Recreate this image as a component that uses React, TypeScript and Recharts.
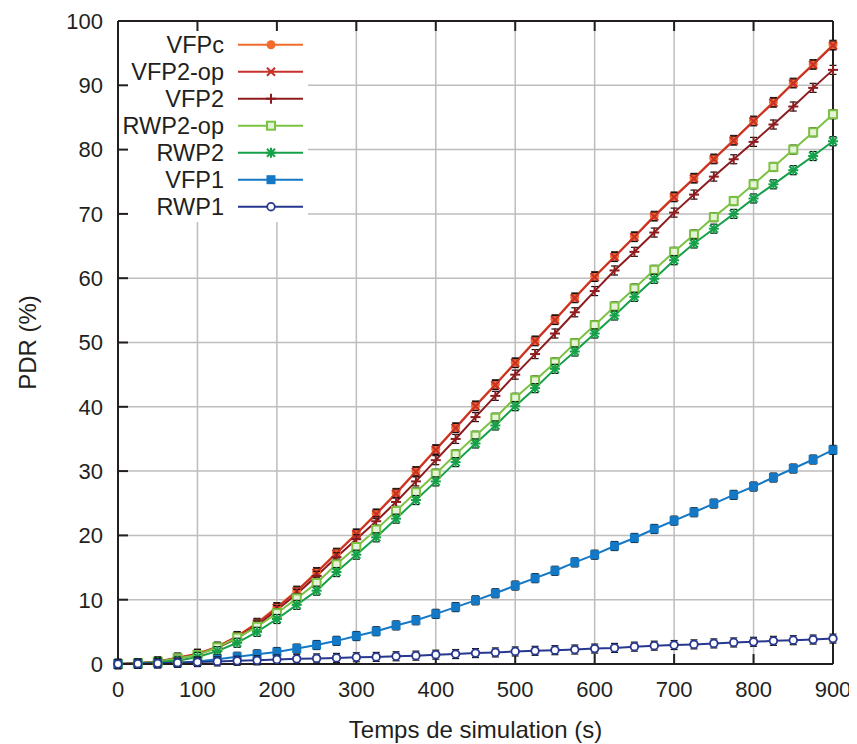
import { LineChart, Line, XAxis, YAxis, CartesianGrid } from 'recharts'

// simulation time (s), one point every 25 s
const times = [
  0, 25, 50, 75, 100, 125, 150, 175, 200, 225, 250, 275, 300, 325, 350, 375, 400, 425, 450,
  475, 500, 525, 550, 575, 600, 625, 650, 675, 700, 725, 750, 775, 800, 825, 850, 875, 900,
]

// PDR (%) per protocol
const vfpc = [
  0, 0.1, 0.4, 1.0, 1.6, 2.7, 4.35, 6.4, 8.85, 11.4, 14.3, 17.3, 20.3, 23.4, 26.6, 30.0, 33.4,
  36.8, 40.2, 43.5, 46.9, 50.3, 53.6, 57.0, 60.3, 63.4, 66.5, 69.7, 72.7, 75.6, 78.6, 81.5,
  84.5, 87.4, 90.4, 93.3, 96.3,
]
const vfp2op = [
  0, 0.1, 0.4, 0.95, 1.55, 2.65, 4.3, 6.3, 8.75, 11.3, 14.2, 17.2, 20.2, 23.3, 26.5, 29.9, 33.3,
  36.7, 40.1, 43.4, 46.8, 50.2, 53.5, 56.9, 60.2, 63.3, 66.4, 69.6, 72.6, 75.5, 78.5, 81.4,
  84.4, 87.3, 90.3, 93.2, 96.2,
]
const vfp2 = [
  0, 0.1, 0.35, 0.9, 1.5, 2.5, 4.0, 6.0, 8.4, 10.9, 13.7, 16.6, 19.4, 22.2, 25.2, 28.4, 31.7,
  35.0, 38.4, 41.7, 45.0, 48.2, 51.4, 54.7, 58.0, 61.2, 64.1, 67.1, 70.2, 73.0, 75.8, 78.5,
  81.2, 83.9, 86.7, 89.6, 92.4,
]
const rwp2op = [
  0, 0.1, 0.35, 0.9, 1.4, 2.6, 4.1, 5.8, 7.9, 10.2, 12.6, 15.5, 18.2, 20.9, 23.8, 26.7, 29.6,
  32.6, 35.5, 38.3, 41.4, 44.1, 46.9, 49.9, 52.7, 55.6, 58.4, 61.3, 64.1, 66.8, 69.5, 72.0,
  74.6, 77.3, 80.0, 82.7, 85.5,
]
const rwp2 = [
  0, 0.05, 0.3, 0.5, 1.1, 2.0, 3.3, 5.0, 7.0, 9.2, 11.4, 14.3, 17.0, 19.7, 22.6, 25.5, 28.4,
  31.4, 34.3, 37.1, 40.1, 42.9, 45.9, 48.6, 51.4, 54.2, 57.1, 59.9, 62.8, 65.4, 67.7, 70.0,
  72.4, 74.6, 76.8, 79.0, 81.3,
]
const vfp1 = [
  0, 0.05, 0.1, 0.2, 0.4, 0.73, 1.13, 1.5, 1.86, 2.4, 2.95, 3.6, 4.35, 5.1, 6.0, 6.8, 7.8,
  8.85, 9.9, 11.0, 12.2, 13.35, 14.5, 15.8, 17.0, 18.35, 19.6, 21.0, 22.3, 23.6, 24.95, 26.3,
  27.6, 29.0, 30.4, 31.8, 33.3,
]
const rwp1 = [
  0, 0.05, 0.1, 0.2, 0.3, 0.4, 0.5, 0.57, 0.7, 0.8, 0.87, 0.95, 1.05, 1.1, 1.2, 1.3, 1.45,
  1.55, 1.7, 1.8, 1.95, 2.05, 2.15, 2.25, 2.4, 2.5, 2.7, 2.85, 2.95, 3.05, 3.2, 3.35, 3.45,
  3.6, 3.7, 3.8, 3.95,
]

const xTicks = [0, 100, 200, 300, 400, 500, 600, 700, 800, 900]
const yTicks = [0, 10, 20, 30, 40, 50, 60, 70, 80, 90, 100]

const data = times.map((t, i) => ({
  t,
  vfpc: vfpc[i],
  vfp2op: vfp2op[i],
  vfp2: vfp2[i],
  rwp2op: rwp2op[i],
  rwp2: rwp2[i],
  vfp1: vfp1[i],
  rwp1: rwp1[i],
}))

type MarkerKind = 'dot' | 'cross' | 'plus' | 'openSquare' | 'star' | 'square' | 'openCircle'

const series: { key: string; name: string; color: string; marker: MarkerKind }[] = [
  { key: 'vfpc', name: 'VFPc', color: '#f26b2b', marker: 'dot' },
  { key: 'vfp2op', name: 'VFP2-op', color: '#c8302a', marker: 'cross' },
  { key: 'vfp2', name: 'VFP2', color: '#8e1b1e', marker: 'plus' },
  { key: 'rwp2op', name: 'RWP2-op', color: '#7cc242', marker: 'openSquare' },
  { key: 'rwp2', name: 'RWP2', color: '#15a04a', marker: 'star' },
  { key: 'vfp1', name: 'VFP1', color: '#1478c4', marker: 'square' },
  { key: 'rwp1', name: 'RWP1', color: '#27378f', marker: 'openCircle' },
]

const FONT = '"Liberation Sans", Arial, Helvetica, sans-serif'
const INK = '#231f20'
const W = 849
const H = 736
const PLOT_LEFT = 110
const PLOT_TOP = 13

function Marker({ kind, cx, cy, color, caps }: { kind: MarkerKind; cx: number; cy: number; color: string; caps: boolean }) {
  const bars = caps ? (
    <g stroke="#111" strokeWidth={1.2}>
      <line x1={cx - 3.5} x2={cx + 3.5} y1={cy - 4.5} y2={cy - 4.5} />
      <line x1={cx - 3.5} x2={cx + 3.5} y1={cy + 4.5} y2={cy + 4.5} />
    </g>
  ) : null
  let shape = null
  if (kind === 'dot') shape = <circle cx={cx} cy={cy} r={4.5} fill={color} />
  if (kind === 'cross')
    shape = (
      <g stroke={color} strokeWidth={2.2}>
        <line x1={cx - 4} y1={cy - 4} x2={cx + 4} y2={cy + 4} />
        <line x1={cx - 4} y1={cy + 4} x2={cx + 4} y2={cy - 4} />
      </g>
    )
  if (kind === 'plus')
    shape = (
      <g stroke={color} strokeWidth={2}>
        <line x1={cx - 5} y1={cy} x2={cx + 5} y2={cy} />
        <line x1={cx} y1={cy - 5} x2={cx} y2={cy + 5} />
      </g>
    )
  if (kind === 'openSquare')
    shape = <rect x={cx - 4} y={cy - 4} width={8} height={8} fill="#e6f3d8" stroke={color} strokeWidth={2} />
  if (kind === 'star')
    shape = (
      <g stroke={color} strokeWidth={2}>
        <line x1={cx - 4} y1={cy - 4} x2={cx + 4} y2={cy + 4} />
        <line x1={cx - 4} y1={cy + 4} x2={cx + 4} y2={cy - 4} />
        <line x1={cx - 5} y1={cy} x2={cx + 5} y2={cy} />
        <line x1={cx} y1={cy - 5} x2={cx} y2={cy + 5} />
      </g>
    )
  if (kind === 'square') shape = <rect x={cx - 4.5} y={cy - 4.5} width={9} height={9} fill={color} />
  if (kind === 'openCircle') shape = <circle cx={cx} cy={cy} r={3.8} fill="#fff" stroke={color} strokeWidth={1.8} />
  return (
    <g>
      {bars}
      {shape}
    </g>
  )
}

function KeyBox() {
  return (
    <g transform={`translate(${PLOT_LEFT + 1}, ${PLOT_TOP + 1})`}>
      <rect x={0} y={0} width={189} height={200} fill="#fff" />
      {series.map((s, i) => {
        const cy = 22.7 + i * 27
        return (
          <g key={s.key}>
            <text x={105} y={cy + 8.5} textAnchor="end" fontSize={23.5} fill={INK} fontFamily={FONT}>
              {s.name}
            </text>
            <line x1={119} x2={184} y1={cy} y2={cy} stroke={s.color} strokeWidth={2} />
            <Marker kind={s.marker} cx={152} cy={cy} color={s.color} caps={false} />
          </g>
        )
      })}
    </g>
  )
}

const noLabel = () => <g />

export default function App() {
  const tickStyle = { fontSize: 22, fill: INK, fontFamily: FONT }
  const titleStyle = { fontSize: 24, fill: INK, fontFamily: FONT }
  const frame = { stroke: INK, strokeWidth: 2 }
  const tickLine = { stroke: INK, strokeWidth: 2 }
  return (
    <LineChart width={W} height={H} data={data} margin={{ top: 0, right: 0, bottom: 0, left: 0 }}>
      <CartesianGrid xAxisId="x" yAxisId="y" stroke="#bdbdbd" strokeWidth={1.5} />
      <KeyBox />
      <XAxis
        xAxisId="x"
        dataKey="t"
        type="number"
        domain={[0, 900]}
        ticks={xTicks}
        height={80}
        tickLine={tickLine}
        tickSize={-10}
        tickMargin={27}
        axisLine={frame}
        tick={tickStyle}
        label={{ value: 'Temps de simulation (s)', position: 'insideBottom', offset: 6, style: titleStyle }}
      />
      <XAxis
        xAxisId="xtop"
        dataKey="t"
        type="number"
        domain={[0, 900]}
        ticks={xTicks}
        orientation="top"
        height={PLOT_TOP}
        tick={noLabel}
        tickSize={-10}
        tickMargin={0}
        axisLine={frame}
        tickLine={tickLine}
      />
      <YAxis
        yAxisId="y"
        type="number"
        domain={[0, 100]}
        ticks={yTicks}
        width={PLOT_LEFT}
        tickLine={tickLine}
        tickSize={-10}
        tickMargin={25}
        axisLine={frame}
        tick={tickStyle}
        label={{ value: 'PDR (%)', angle: -90, position: 'insideLeft', offset: 19, style: { ...titleStyle, textAnchor: 'middle' } }}
      />
      <YAxis
        yAxisId="yright"
        type="number"
        domain={[0, 100]}
        ticks={yTicks}
        orientation="right"
        width={24}
        tick={noLabel}
        tickSize={-10}
        tickMargin={0}
        axisLine={frame}
        tickLine={tickLine}
      />
      {series.map((s) => (
        <Line
          key={s.key}
          xAxisId="x"
          yAxisId="y"
          type="linear"
          dataKey={s.key}
          name={s.name}
          stroke={s.color}
          strokeWidth={2}
          isAnimationActive={false}
          activeDot={false}
          dot={(p: any) => (
            <Marker key={`${s.key}-${p.index}`} kind={s.marker} cx={p.cx} cy={p.cy} color={s.color} caps />
          )}
        />
      ))}
    </LineChart>
  )
}
